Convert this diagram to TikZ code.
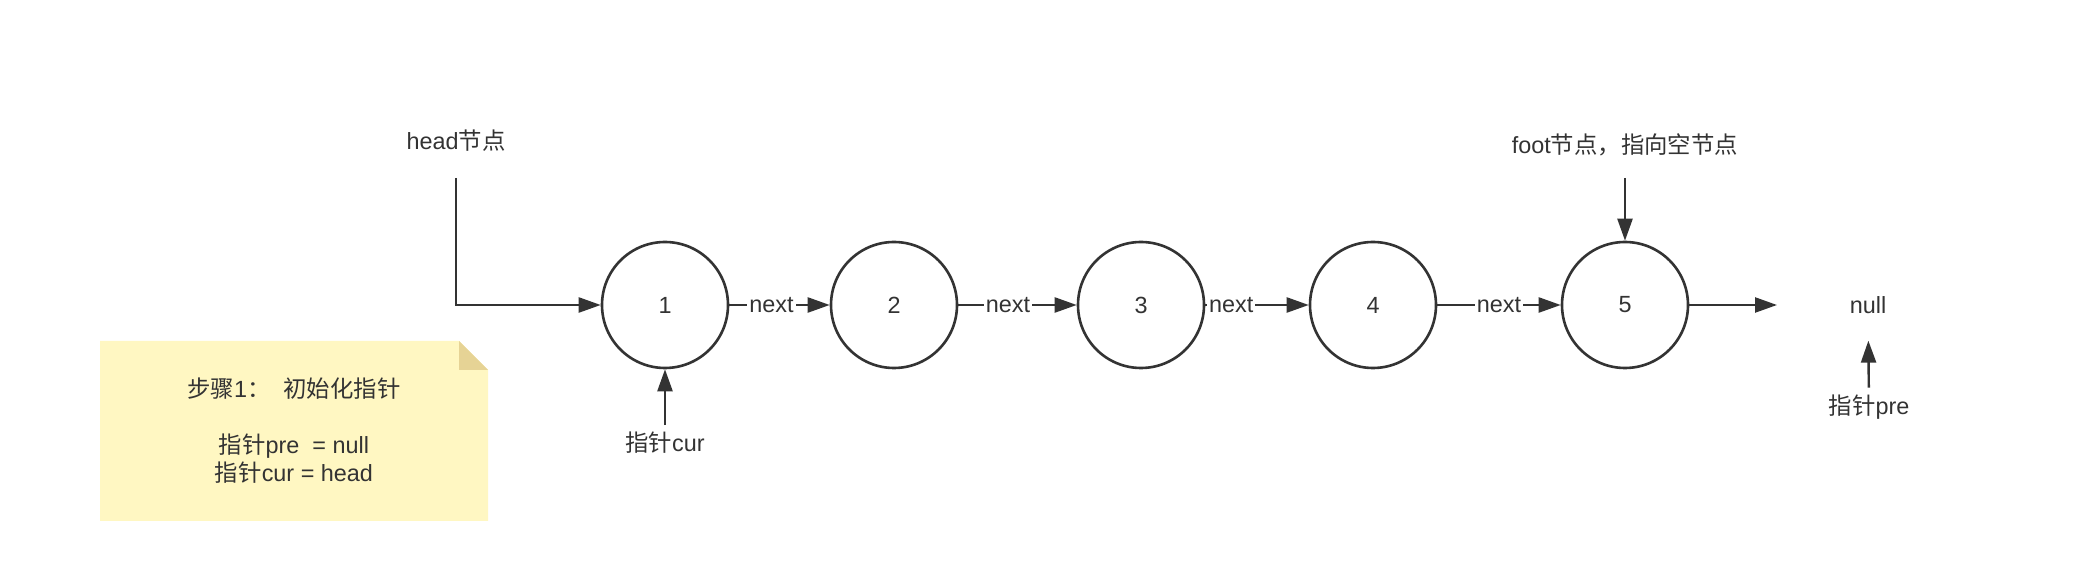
\documentclass[tikz,border=0pt]{standalone}
\usepackage{fontspec}
\setmainfont{Liberation Sans}
\newfontfamily\zhfont{Noto Sans CJK SC}
\newcommand{\zh}[1]{{\zhfont #1}}
\usetikzlibrary{arrows.meta}
\definecolor{ink}{HTML}{333333}
\definecolor{notefill}{HTML}{FFF7C2}
\definecolor{notefold}{HTML}{E6D395}

\begin{document}
\begin{tikzpicture}[x=0.5pt,y=-0.5pt,
    every node/.style={font=\fontsize{11.7}{14}\selectfont,text=ink},
    listnode/.style={circle,draw=ink,line width=1.3pt,minimum size=63pt,inner sep=0pt},
    link/.style={draw=ink,line width=1.2pt,-{Triangle[length=11pt,width=7.5pt]}},
    nextlabel/.style={fill=white,inner sep=1pt}]

      \useasboundingbox (0,0) rectangle (2084,582);

      \foreach \i/\x in {1/665,2/894,3/1141,4/1373,5/1625}
      \node[listnode] (n\i) at (\x,305) {\i}; % list nodes

      \foreach \a/\b/\p in {1/2/0.42,2/3/0.42,3/4/0.25,4/5/0.5}
      \draw[link] (n\a) -- node[nextlabel,pos=\p] {next} (n\b); % next links

      \node (headlbl) at (456,141) {head\zh{节点}};
      \coordinate (headtop) at (456,178);
      \draw[link] (headtop) |- (n1); % head

      \node (curlbl) at (665,443) {\zh{指针}cur};
      \draw[link] (curlbl) -- (n1); % cur

      \node (footlbl) at (1625,145) {foot\zh{节点，指向空节点}};
      \coordinate (foottop) at (1625,178);
      \draw[link] (foottop) -- (n5); % foot

      \node (null) at (1868,305) {null};
      \coordinate (nullend) at (1777,305);
      \draw[link] (n5) -- (nullend); % to null

      \node (prelbl) at (1869,407) {\zh{指针}pre};
      \draw[link,shorten >=10pt] (prelbl) -- (null); % pre

      % note
      \fill[notefill] (100,341) -- (459,341) -- (488,370) -- (488,521) -- (100,521) -- cycle;
      \fill[notefold] (459,341) -- (459,370) -- (488,370) -- cycle;
      \node[align=center] (notetext) at (294,431)
        {\zh{步骤}1\zh{：}\ \ \zh{初始化指针}\\[14pt]
         \zh{指针}pre\ \ = null\\
         \zh{指针}cur = head};

    \end{tikzpicture}
\end{document}
